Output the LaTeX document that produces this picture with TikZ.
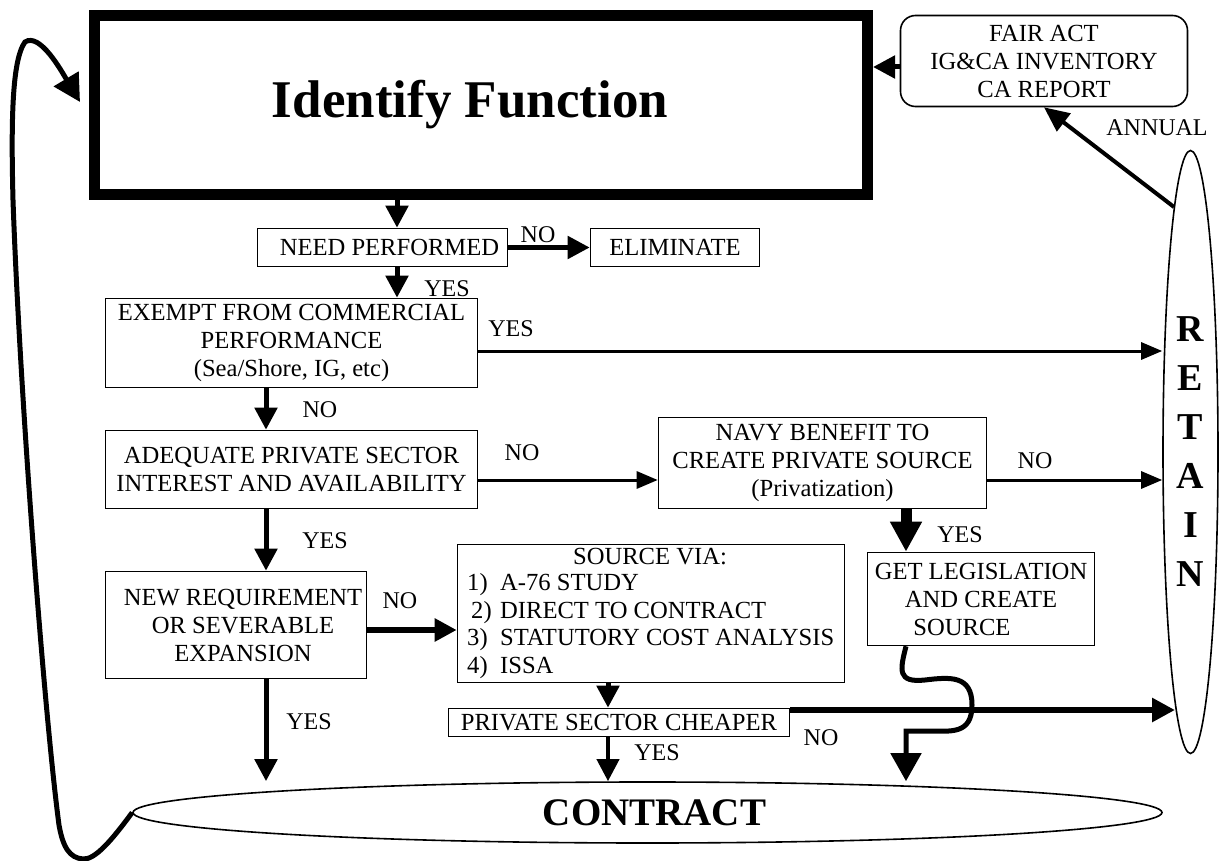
\documentclass[tikz,border=0pt]{standalone}
\usepackage{fontspec}
\setmainfont{Liberation Serif}
\usetikzlibrary{arrows.meta,shapes.geometric}
\begin{document}
\begin{tikzpicture}[x=1pt,y=-1pt,
  box/.style={draw,line width=1.6pt,rectangle,inner sep=0pt,align=center,font=\fontsize{24.6}{28}\selectfont},
  lbl/.style={font=\fontsize{24}{28}\selectfont,inner sep=0pt},
  thk/.style={line width=5pt,-{Triangle[length=22pt,width=22pt]}},
  thn/.style={line width=3pt,-{Triangle[length=21pt,width=17pt]}},
  huge/.style={line width=11pt,-{Triangle[length=30pt,width=30pt]}},
]
\path[use as bounding box,fill=white] (0,0) rectangle (1224,861);

% nodes
\node[draw,line width=11pt,minimum width=773pt,minimum height=179pt,inner sep=0pt,
      font=\fontsize{53}{60}\selectfont\bfseries] (ident) at (481,105) {Identify Function\hspace*{22pt}};
\node[box,rounded corners=15pt,minimum width=287pt,minimum height=91pt] (fair) at (1044,61)
  {FAIR ACT\\IG\&CA INVENTORY\\CA REPORT};
\node[box,minimum width=250pt,minimum height=38pt] (need) at (382.5,247.5) {\hspace*{14pt}NEED PERFORMED};
\node[box,minimum width=169pt,minimum height=38pt] (elim) at (675,247.5) {ELIMINATE};
\node[box,minimum width=372pt,minimum height=89pt] (exempt) at (291.5,343)
  {EXEMPT FROM COMMERCIAL\\PERFORMANCE\\(Sea/Shore, IG, etc)};
\node[box,minimum width=372pt,minimum height=78pt] (adequate) at (291.5,469.5)
  {ADEQUATE PRIVATE SECTOR\\INTEREST AND AVAILABILITY};
\node[box,minimum width=328pt,minimum height=91pt] (navy) at (822.5,463)
  {NAVY BENEFIT TO\\CREATE PRIVATE SOURCE\\(Privatization)};
\node[box,minimum width=227pt,minimum height=93pt] (getleg) at (981,599)
  {GET LEGISLATION\\AND CREATE\\SOURCE\hspace*{38pt}};
\node[box,minimum width=261pt,minimum height=107pt] (newreq) at (236,625)
  {\hspace*{14pt}NEW REQUIREMENT\\\hspace*{14pt}OR SEVERABLE\\\hspace*{14pt}EXPANSION};
\node[box,minimum width=387pt,minimum height=138pt] (source) at (651,613.5) {};
\node[lbl,font=\fontsize{24.6}{28}\selectfont] (srctitle) at (650,557) {SOURCE VIA:};
\node[lbl,anchor=west,align=left,font=\fontsize{24.6}{27.5}\selectfont] (srclist) at (467,626)
  {\makebox[33pt][l]{1)}A-76 STUDY\\
   \makebox[33pt][l]{\hspace*{4pt}2)}DIRECT TO CONTRACT\\
   \makebox[33pt][l]{3)}STATUTORY COST ANALYSIS\\
   \makebox[33pt][l]{4)}ISSA};
\node[box,minimum width=341pt,minimum height=28pt] (cheaper) at (619,722.5) {PRIVATE SECTOR CHEAPER};
\node[draw,ellipse,line width=1.6pt,minimum width=55pt,minimum height=603pt,inner sep=0pt,
      align=center,font=\fontsize{38}{49}\selectfont\bfseries] (retain) at (1190.5,452) {R\\E\\T\\A\\I\\N};
\node[draw,ellipse,line width=1.6pt,minimum width=1029pt,minimum height=61pt,inner sep=0pt,
      font=\fontsize{39}{44}\selectfont\bfseries] (contract) at (647.5,812.5) {\hspace*{14pt}CONTRACT};

% labels
\node[lbl] (l1) at (538,235) {NO};
\node[lbl] (l2) at (447,289) {YES};
\node[lbl] (l3) at (511,329) {YES};
\node[lbl] (l4) at (320,410) {NO};
\node[lbl] (l5) at (522,453) {NO};
\node[lbl] (l6) at (1035,461) {NO};
\node[lbl] (l7) at (325,541) {YES};
\node[lbl] (l8) at (960,535) {YES};
\node[lbl] (l9) at (400,601) {NO};
\node[lbl] (l10) at (309,722) {YES};
\node[lbl] (l11) at (821,738) {NO};
\node[lbl] (l12) at (657,753) {YES};
\node[lbl] (l13) at (1157,128) {ANNUAL};

% helper coordinates
\coordinate (cA) at (397,0);
\coordinate (cB) at (266,0);
\coordinate (cC) at (906,0);
\coordinate (cD) at (608,0);
\coordinate (rE) at (0,351);
\coordinate (rF) at (0,480);
\coordinate (rG) at (0,630);
\coordinate (rI) at (0,67);
\coordinate (rH) at (1175,710);
\coordinate (annS) at (1174,207);
\coordinate (loopE) at (80,102);

% connectors
\draw[thk] (fair.west |- rI) -- (ident.east |- rI);
\draw[line width=4pt,-{Triangle[length=25pt,width=22pt]}] (annS) -- (fair.south);
\draw[thk] (ident.south -| cA) -- (need.north -| cA);
\draw[thk] (need.east) -- (elim.west);
\draw[thk] (need.south -| cA) -- (exempt.north -| cA);
\draw[thn] (exempt.east |- rE) -- (retain.west |- rE);
\draw[thk] (exempt.south -| cB) -- (adequate.north -| cB);
\draw[thn] (adequate.east |- rF) -- (navy.west |- rF);
\draw[thn] (navy.east |- rF) -- (retain.west |- rF);
\draw[huge] (navy.south -| cC) -- (getleg.north -| cC);
\draw[thk] (adequate.south -| cB) -- (newreq.north -| cB);
\draw[line width=6pt,-{Triangle[length=22pt,width=22pt]}] (newreq.east |- rG) -- (source.west |- rG);
\draw[thk] (newreq.south -| cB) -- (contract.north -| cB);
\draw[thk] (source.south -| cD) -- (cheaper.north -| cD);
\draw[line width=4pt,-{Triangle[length=22pt,width=22pt]}] (cheaper.south -| cD) -- (contract.north -| cD);
\draw[line width=6pt,-{Triangle[length=23pt,width=23pt]}] (cheaper.east |- rH) -- (rH);
\draw[line width=5pt,-{Triangle[length=28pt,width=30pt]}] (getleg.south -| cC)
  .. controls (900,670) and (897,683) .. (925,680)
  .. controls (950,677) and (972,675) .. (972,705)
  .. controls (972,735) and (950,731) .. (930,731)
  -- (906,731) -- (contract.north -| cC);
\draw[line width=5pt,-{Triangle[length=27pt,width=28pt]}] (contract.west)
  .. controls (112,840) and (95,860) .. (83,859)
  .. controls (70,858) and (63,848) .. (59,825)
  .. controls (45,720) and (20,400) .. (13,200)
  .. controls (11,120) and (12,60) .. (25,42)
  .. controls (40,32) and (62,72) .. (loopE);
\end{tikzpicture}
\end{document}
